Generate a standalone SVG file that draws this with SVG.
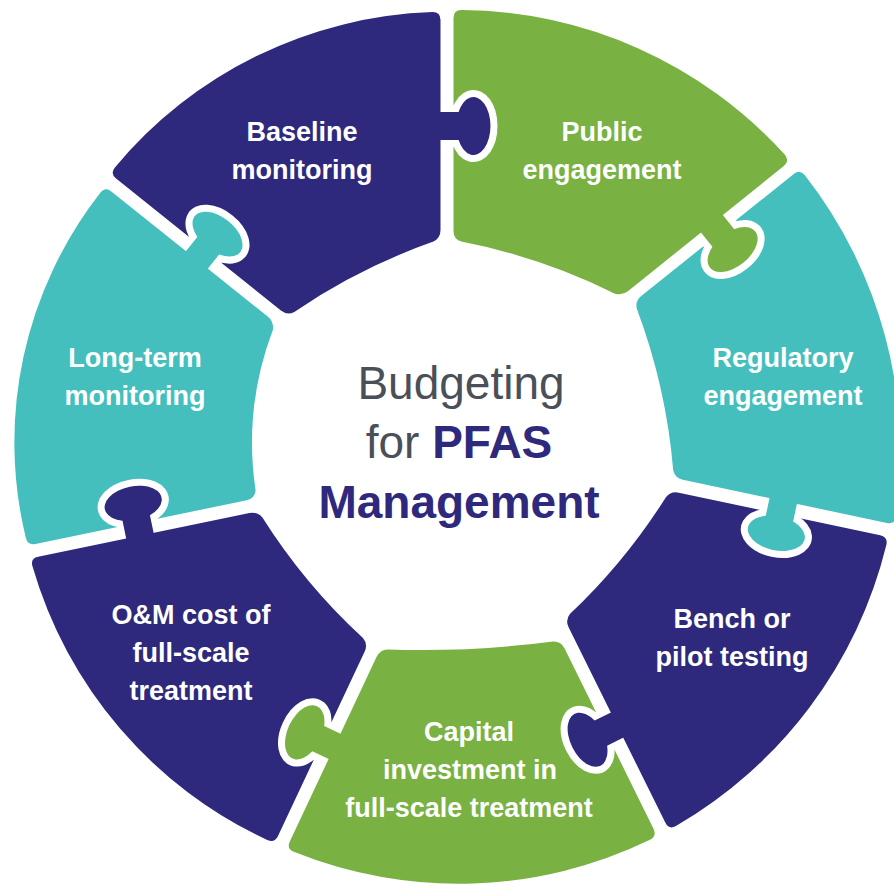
<svg xmlns="http://www.w3.org/2000/svg" xmlns:xlink="http://www.w3.org/1999/xlink" width="894" height="885" viewBox="0 0 894 885">
  <style>
    .navy { fill: #2e297d; }
    .green { fill: #79b142; }
    .teal { fill: #45bfbe; }
    .lbl { font-family: "Liberation Sans", Arial, sans-serif; font-weight: 700; font-size: 27px; fill: #ffffff; text-anchor: middle; }
    .title { font-family: "Liberation Sans", Arial, sans-serif; font-size: 46px; text-anchor: middle; fill: #4b5058; }
    .title .em { font-weight: 700; fill: #2e297d; }
  </style>
  <defs>
    <!-- puzzle tab: owner edge at x=0, protrudes along +x into the next piece -->
    <path id="knob" d="M -3,-14 L 18.1,-14 A 17 29 0 1 1 18.1,14 L -3,14"/>
    <!-- sockets: each piece is cut around the tab of the piece before it, leaving a white gap -->
    <mask id="cut-baseline" maskUnits="userSpaceOnUse" x="0" y="0" width="894" height="885">
      <rect width="894" height="885" fill="#fff"/>
      <use xlink:href="#knob" transform="translate(196.9,259.9) rotate(-51.3)" fill="#000" stroke="#000" stroke-width="14"/>
    </mask>
    <mask id="cut-public" maskUnits="userSpaceOnUse" x="0" y="0" width="894" height="885">
      <rect width="894" height="885" fill="#fff"/>
      <use xlink:href="#knob" transform="translate(440.5,126)" fill="#000" stroke="#000" stroke-width="14"/>
    </mask>
    <mask id="cut-regulatory" maskUnits="userSpaceOnUse" x="0" y="0" width="894" height="885">
      <rect width="894" height="885" fill="#fff"/>
      <use xlink:href="#knob" transform="translate(712,223.8) rotate(51.3)" fill="#000" stroke="#000" stroke-width="14"/>
    </mask>
    <mask id="cut-bench" maskUnits="userSpaceOnUse" x="0" y="0" width="894" height="885">
      <rect width="894" height="885" fill="#fff"/>
      <use xlink:href="#knob" transform="translate(783.2,501) rotate(102)" fill="#000" stroke="#000" stroke-width="14"/>
    </mask>
    <mask id="cut-capital" maskUnits="userSpaceOnUse" x="0" y="0" width="894" height="885">
      <rect width="894" height="885" fill="#fff"/>
      <use xlink:href="#knob" transform="translate(617.1,725.1) rotate(153.6)" fill="#000" stroke="#000" stroke-width="14"/>
    </mask>
    <mask id="cut-om" maskUnits="userSpaceOnUse" x="0" y="0" width="894" height="885">
      <rect width="894" height="885" fill="#fff"/>
      <use xlink:href="#knob" transform="translate(334.6,746.4) rotate(205.2)" fill="#000" stroke="#000" stroke-width="14"/>
    </mask>
    <mask id="cut-longterm" maskUnits="userSpaceOnUse" x="0" y="0" width="894" height="885">
      <rect width="894" height="885" fill="#fff"/>
      <use xlink:href="#knob" transform="translate(139.9,535.7) rotate(258.3)" fill="#000" stroke="#000" stroke-width="14"/>
    </mask>
  </defs>

  <rect width="894" height="885" fill="#ffffff"/>

  <g id="baseline-monitoring">
    <path class="navy" mask="url(#cut-baseline)" d="M 114.9,167.4 A 432 432 0 0 1 432.5,12.1 Q 440.5,12 440.5,20 L 440.5,230 Q 440.5,238 433.4,241.6 A 600 600 0 0 0 294.3,311.9 Q 287.2,315.5 280.9,310.5 L 116.1,178.6 Q 109.9,173.6 114.9,167.4 Z"/>
    <use xlink:href="#knob" class="navy" transform="translate(440.5,126)"/>
    <text class="lbl" x="302" y="141">Baseline</text>
    <text class="lbl" x="302" y="179">monitoring</text>
  </g>

  <g id="public-engagement">
    <path class="green" mask="url(#cut-public)" d="M 461.5,10.1 A 440 440 0 0 1 784.9,154.8 Q 790,161 783.8,166 L 628.2,291 Q 622,296 614.4,293.4 A 600 600 0 0 0 461.1,241.6 Q 453.5,239 453.5,231 L 453.5,18 Q 453.5,10 461.5,10.1 Z"/>
    <use xlink:href="#knob" class="green" transform="translate(712,223.8) rotate(51.3)"/>
    <text class="lbl" x="602" y="141">Public</text>
    <text class="lbl" x="602" y="179">engagement</text>
  </g>

  <g id="regulatory-engagement">
    <path class="teal" mask="url(#cut-regulatory)" d="M 804.9,175.3 A 452 452 0 0 1 896.1,516.8 Q 894.7,524.7 886.9,523 L 682.8,479.7 Q 675,478 673.2,470.2 A 600 600 0 0 0 636.8,308.8 Q 635,301 641.2,296 L 793.8,174 Q 800,169 804.9,175.3 Z"/>
    <use xlink:href="#knob" class="teal" transform="translate(783.2,501) rotate(102)"/>
    <text class="lbl" x="783" y="367">Regulatory</text>
    <text class="lbl" x="783" y="405">engagement</text>
  </g>

  <g id="bench-pilot-testing">
    <path class="navy" mask="url(#cut-bench)" d="M 886.4,544.8 A 448 448 0 0 1 675.9,826 Q 669,830 665.4,822.8 L 568.6,627.2 Q 565,620 570.1,613.8 A 600 600 0 0 0 665.9,497.2 Q 671,491 678.8,492.7 L 880.2,535.3 Q 888,537 886.4,544.8 Z"/>
    <use xlink:href="#knob" class="navy" transform="translate(617.1,725.1) rotate(153.6)"/>
    <text class="lbl" x="732" y="628">Bench or</text>
    <text class="lbl" x="732" y="666">pilot testing</text>
  </g>

  <g id="capital-investment">
    <path class="green" mask="url(#cut-capital)" d="M 650,839.8 A 440 440 0 0 1 293.8,851.8 Q 286.4,848.8 289.8,841.6 L 376.5,657 Q 379.9,649.8 387.9,649.4 A 1000 1000 0 0 0 553,641.4 Q 561,641 564.5,648.2 L 653.5,828.8 Q 657,836 650,839.8 Z"/>
    <use xlink:href="#knob" class="green" transform="translate(334.6,746.4) rotate(205.2)"/>
    <text class="lbl" x="469" y="741">Capital</text>
    <text class="lbl" x="470" y="779">investment in</text>
    <text class="lbl" x="469" y="817">full-scale treatment</text>
  </g>

  <g id="om-cost">
    <path class="navy" mask="url(#cut-om)" d="M 267.3,840 A 434 434 0 0 1 32.4,566.1 Q 30.3,558.4 38.1,556.8 L 249.5,513 Q 257.3,511.4 262.4,517.5 A 600 600 0 0 0 363,638.1 Q 368.1,644.2 364.7,651.4 L 278,836 Q 274.6,843.2 267.3,840 Z"/>
    <use xlink:href="#knob" class="navy" transform="translate(139.9,535.7) rotate(258.3)"/>
    <text class="lbl" x="191" y="624">O&amp;M cost of</text>
    <text class="lbl" x="191" y="662">full-scale</text>
    <text class="lbl" x="191" y="700">treatment</text>
  </g>

  <g id="long-term-monitoring">
    <path class="teal" mask="url(#cut-longterm)" d="M 25.8,537.8 A 405 405 0 0 1 100.3,192.8 Q 105.1,186.4 111.3,191.4 L 267.7,316.5 Q 273.9,321.5 273,329.5 A 320 320 0 0 0 255.6,490.6 Q 254.7,498.6 246.9,500.2 L 35.5,544 Q 27.7,545.6 25.8,537.8 Z"/>
    <use xlink:href="#knob" class="teal" transform="translate(196.9,259.9) rotate(-51.3)"/>
    <text class="lbl" x="135" y="367">Long-term</text>
    <text class="lbl" x="135" y="405">monitoring</text>
  </g>

  <g id="title">
    <text class="title" x="461" y="399">Budgeting</text>
    <text class="title" x="459" y="458">for <tspan class="em">PFAS</tspan></text>
    <text class="title" x="459" y="518"><tspan class="em">Management</tspan></text>
  </g>
</svg>
